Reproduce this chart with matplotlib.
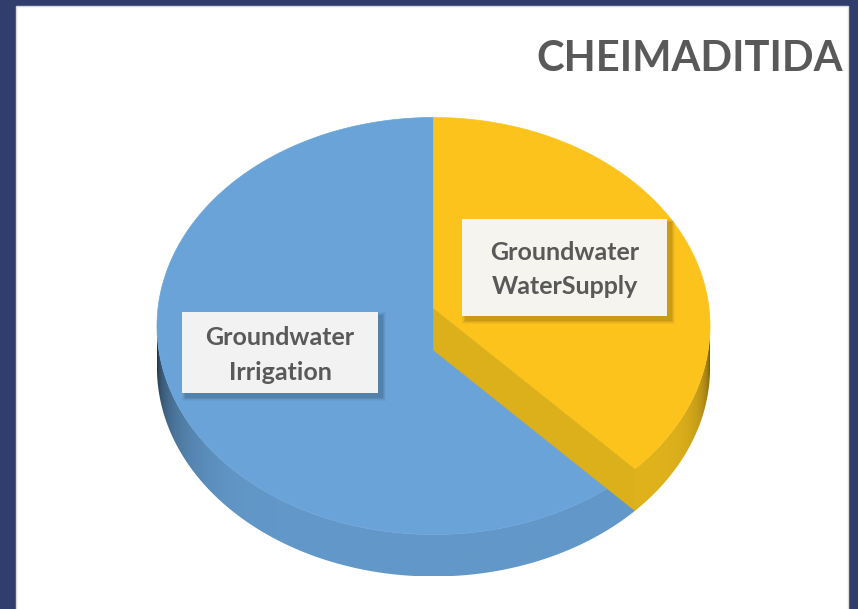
import numpy as np
import matplotlib
matplotlib.use("Agg")
import matplotlib.pyplot as plt
from matplotlib.patches import Polygon, Rectangle

# ---- data ----
title = "CHEIMADITIDA"
categories = ["Groundwater\nIrrigation", "Groundwater\nWaterSupply"]
values = [63, 37]
top_colors = ["#6aa3d8", "#fcc31d"]

W, H = 858, 609
fig = plt.figure(figsize=(W / 100, H / 100), dpi=100)
fig.patch.set_facecolor("#313d6c")
ax = fig.add_axes([0, 0, 1, 1])
ax.set_xlim(0, W)
ax.set_ylim(H, 0)
ax.axis("off")

# white chart panel
ax.add_patch(Rectangle((16, 6), 832, 615, facecolor="white", edgecolor="#d9d9d9", lw=1, zorder=0))

# ---- pseudo-3D pie geometry ----
cx, cy, a, b = 433.5, 326.0, 276.5, 208.5
apex = np.array([433.5, 308.0])
depth = 42.0


def rim(th):
    t = np.radians(th)
    return np.array([cx + a * np.sin(t), cy - b * np.cos(t)])


def arc(t0, t1, n=300):
    return np.array([rim(t) for t in np.linspace(t0, t1, n)])


total = float(sum(values))
ws_ang = values[1] / total * 360.0   # WaterSupply slice, clockwise from 12 o'clock

blue_side = np.array([98, 152, 201]) / 255.0
yel_side = np.array([224, 178, 28]) / 255.0


def blue_col(t):
    f = np.ones_like(t)
    m = t > 215
    f[m] = 1 - 0.65 * ((t[m] - 215) / 55.0) ** 2.2
    return np.clip(blue_side[None, :] * f[:, None], 0, 1)


def yel_col(t):
    u = (ws_ang - t) / (ws_ang - 90.0)
    f = 1 - 0.55 * u ** 3
    return np.clip(yel_side[None, :] * f[:, None], 0, 1)


def side(t0, t1, colfun):
    top = arc(t0, t1)
    bot = top + [0, depth]
    poly = Polygon(np.vstack([top, bot[::-1]]), closed=True, facecolor="none",
                   edgecolor="none", zorder=1)
    ax.add_patch(poly)
    x0, x1 = top[:, 0].min(), top[:, 0].max()
    y0, y1 = top[:, 1].min(), bot[:, 1].max()
    xs = np.linspace(x0, x1, 400)
    # lower half of the ellipse: angle from x
    s = np.clip((xs - cx) / a, -1, 1)
    th = 180 - np.degrees(np.arcsin(s))
    cols = colfun(th)
    img = np.repeat(cols[None, :, :], 2, axis=0)
    im = ax.imshow(img, extent=(x0, x1, y1, y0), aspect="auto", interpolation="bilinear",
                   zorder=1)
    im.set_clip_path(poly)


side(ws_ang, 270, blue_col)
side(90, ws_ang, yel_col)

# Irrigation top face
blue_top = np.vstack([apex, arc(ws_ang, 360)])
ax.add_patch(Polygon(blue_top, closed=True, facecolor=top_colors[0], edgecolor=top_colors[0], lw=0.5, zorder=2))

# WaterSupply cut face
tip = rim(ws_ang)
cut = [apex, tip, tip + [0, depth], apex + [0, depth]]
ax.add_patch(Polygon(cut, closed=True, facecolor="#dbb01b", edgecolor="#dbb01b", lw=0.5, zorder=3))

# WaterSupply top face
yel_top = np.vstack([apex, arc(0, ws_ang)])
ax.add_patch(Polygon(yel_top, closed=True, facecolor=top_colors[1], edgecolor=top_colors[1], lw=0.5, zorder=4))

ax.set_xlim(0, W)
ax.set_ylim(H, 0)

# ---- labels ----
boxes = [
    dict(x=182, y=312, w=196, h=81, fc="#f2f2f2", cx=280, base=[345, 380]),
    dict(x=462, y=219, w=205, h=97, fc="#f5f4ee", cx=565, base=[260, 294]),
]
for cat, bx in zip(categories, boxes):
    for k in range(6, 0, -1):
        ax.add_patch(Rectangle((bx["x"] + 4 - k * 0.6, bx["y"] + 4 - k * 0.6),
                               bx["w"] + k * 1.2, bx["h"] + k * 1.2,
                               facecolor="black", edgecolor="none", alpha=0.035, zorder=5))
    ax.add_patch(Rectangle((bx["x"], bx["y"]), bx["w"], bx["h"], facecolor=bx["fc"],
                           edgecolor="none", zorder=6))
    for line, yb in zip(cat.split("\n"), bx["base"]):
        ax.text(bx["cx"], yb, line, ha="center", va="baseline", fontsize=18,
                fontweight="bold", color="#595959", family="Lato", zorder=7)

ax.text(843, 71, title, ha="right", va="baseline", fontsize=30, fontweight="bold",
        color="#595959", family="Lato", zorder=7)

fig.savefig("out.png", dpi=100, facecolor=fig.get_facecolor())
